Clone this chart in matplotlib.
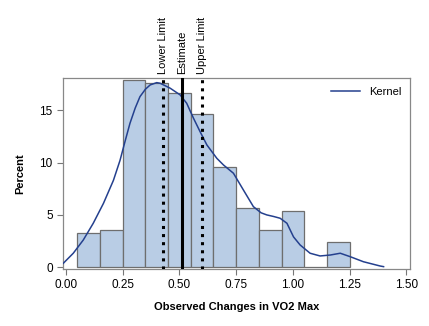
import matplotlib.pyplot as plt

plt.rcParams['font.family'] = ['Liberation Sans', 'DejaVu Sans']

# histogram: bin centres and percent heights
bin_centers = [0.10, 0.20, 0.30, 0.40, 0.50, 0.60, 0.70, 0.80, 0.90, 1.00, 1.10, 1.20]
percents = [3.3, 3.56, 17.9, 17.57, 16.65, 14.6, 9.55, 5.63, 3.56, 5.38, 0.0, 2.39]

# kernel density curve
kernel_x = [-0.012, 0.032, 0.076, 0.120, 0.165, 0.209, 0.238, 0.260, 0.282, 0.305,
            0.326, 0.350, 0.371, 0.400, 0.415, 0.459, 0.503, 0.532, 0.562, 0.591,
            0.621, 0.665, 0.694, 0.738, 0.782, 0.826, 0.860, 0.885, 0.915, 0.944,
            0.974, 1.003, 1.032, 1.076, 1.120, 1.165, 1.209, 1.253, 1.311, 1.385, 1.400]
kernel_y = [0.38, 1.34, 2.6, 4.2, 6.1, 8.3, 10.2, 12.0, 13.75, 15.2,
            16.29, 17.0, 17.41, 17.63, 17.57, 17.1, 16.46, 15.66, 14.23, 12.95,
            11.68, 10.4, 9.77, 8.98, 7.38, 5.79, 5.2, 5.0, 4.85, 4.68,
            4.2, 2.9, 2.13, 1.34, 1.08, 1.17, 1.34, 1.01, 0.53, 0.12, 0.06]

limits = [0.429, 0.51, 0.601]
limit_labels = ["Lower Limit", "Estimate", "Upper Limit"]
limit_styles = [":", "-", ":"]

fig = plt.figure(figsize=(4.29, 3.26), dpi=100)
ax = fig.add_axes([0.147, 0.175, 0.809, 0.586])

ax.bar(bin_centers, percents, width=0.1, color="#b9cde5", edgecolor="#6e6e6e", linewidth=0.9, zorder=1)
ax.plot(kernel_x, kernel_y, color="#24408e", linewidth=1.1, label="Kernel", zorder=3)

for xv, lab, ls in zip(limits, limit_labels, limit_styles):
    ax.axvline(xv, color="black", linestyle=ls, linewidth=2.2, zorder=4)
    ax.text(xv, 18.45, lab, rotation=90, ha="center", va="bottom", fontsize=8)

ax.set_xlim(-0.013, 1.517)
ax.set_ylim(-0.16, 18.08)
ax.set_xticks([0, 0.25, 0.5, 0.75, 1.0, 1.25, 1.5])
ax.set_xticklabels(["0.00", "0.25", "0.50", "0.75", "1.00", "1.25", "1.50"])
ax.set_yticks([0, 5, 10, 15])
ax.tick_params(labelsize=8.5, color="#777777", length=4, width=0.8)

for s in ax.spines.values():
    s.set_color("#888888")
    s.set_linewidth(0.9)

ax.set_xlabel("Observed Changes in VO2 Max", fontsize=8, fontweight="bold", labelpad=8)
ax.set_ylabel("Percent", fontsize=8, fontweight="bold", labelpad=10)

ax.legend(loc="upper right", frameon=False, fontsize=8, handlelength=2.6, borderaxespad=0.4)

fig.savefig("out.png", dpi=100)
